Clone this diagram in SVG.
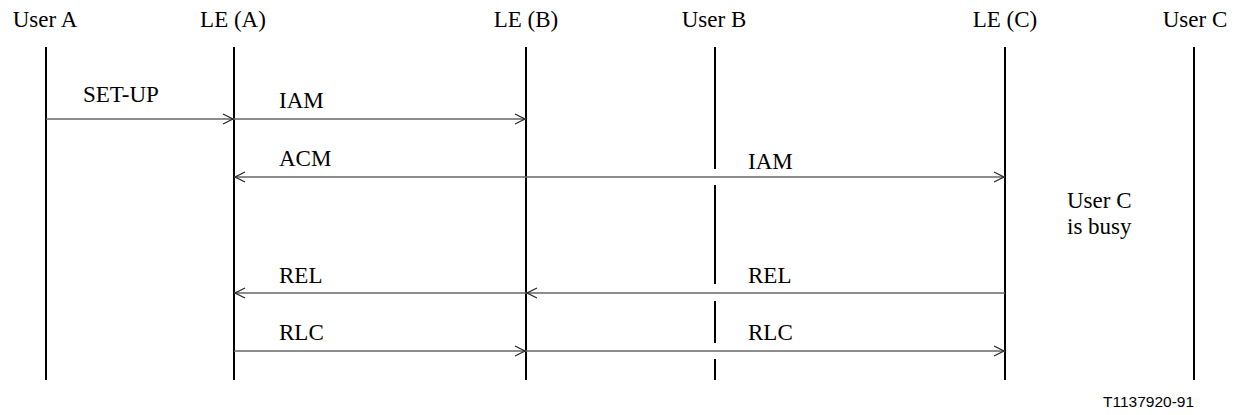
<svg xmlns="http://www.w3.org/2000/svg" width="1241" height="415" viewBox="0 0 1241 415">
<style>
.m{text-anchor:middle}
.life{stroke:#000;stroke-width:2;fill:none}
.msg{stroke:#666;stroke-width:1.6;fill:none}
.hd{stroke:#222;stroke-width:1.2;fill:none}
</style>
<rect width="1241" height="415" fill="#fff"/>
<g font-family="Liberation Serif, Times New Roman, serif" font-size="23" fill="#000">
<g id="userA"><text class="m" x="45" y="27">User A</text><line class="life" x1="46" y1="47" x2="46" y2="380"/></g>
<g id="leA"><text class="m" x="233" y="27">LE (A)</text><line class="life" x1="234" y1="47" x2="234" y2="380"/></g>
<g id="leB"><text class="m" x="526" y="27">LE (B)</text><line class="life" x1="526" y1="47" x2="526" y2="380"/></g>
<g id="userB"><text class="m" x="714" y="27">User B</text><path class="life" d="M715 47V169M715 185V284M715 301V343M715 359V380"/></g>
<g id="leC"><text class="m" x="1005" y="27">LE (C)</text><line class="life" x1="1005" y1="47" x2="1005" y2="380"/></g>
<g id="userC"><text class="m" x="1195" y="27">User C</text><line class="life" x1="1194" y1="47" x2="1194" y2="380"/></g>
<g id="busy"><text x="1067" y="208">User C</text><text x="1067" y="234">is busy</text></g>
<g id="connectors">
<line class="msg" x1="46" y1="119" x2="234" y2="119"/><path class="hd" d="M223 114L233 119L223 124"/>
<line class="msg" x1="234" y1="119" x2="526" y2="119"/><path class="hd" d="M515 114L525 119L515 124"/>
<line class="msg" x1="234" y1="177" x2="1005" y2="177"/><path class="hd" d="M245 172L235 177L245 182"/><path class="hd" d="M994 172L1004 177L994 182"/>
<line class="msg" x1="234" y1="293" x2="526" y2="293"/><path class="hd" d="M245 288L235 293L245 298"/>
<line class="msg" x1="526" y1="293" x2="1005" y2="293"/><path class="hd" d="M537 288L527 293L537 298"/>
<line class="msg" x1="234" y1="351" x2="526" y2="351"/><path class="hd" d="M515 346L525 351L515 356"/>
<line class="msg" x1="526" y1="351" x2="1005" y2="351"/><path class="hd" d="M994 346L1004 351L994 356"/>
</g>
<g id="labels">
<text x="83" y="102">SET-UP</text>
<text x="279" y="108">IAM</text>
<text x="279" y="166">ACM</text>
<text x="748" y="169">IAM</text>
<text x="279" y="283">REL</text>
<text x="748" y="283">REL</text>
<text x="279" y="340">RLC</text>
<text x="748" y="340">RLC</text>
</g>
</g>
<text font-family="Liberation Sans, Arial, sans-serif" font-size="15.5" x="1103" y="407">T1137920-91</text>
</svg>
